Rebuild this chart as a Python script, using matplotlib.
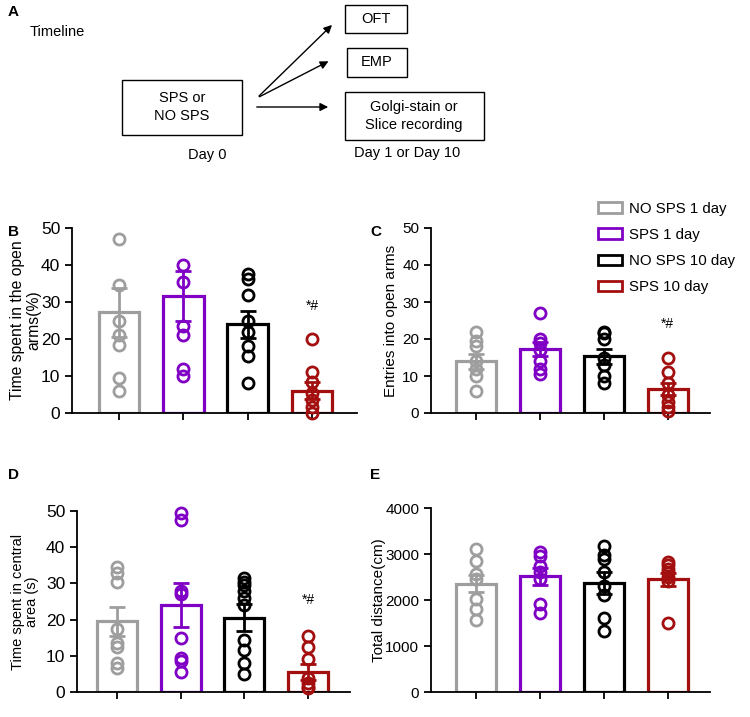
import matplotlib
matplotlib.use("Agg")
import matplotlib.pyplot as plt
from matplotlib.patches import Rectangle, Patch
import numpy as np

plt.rcParams['font.family'] = ['Liberation Sans', 'DejaVu Sans']

groups = ["NO SPS 1 day", "SPS 1 day", "NO SPS 10 day", "SPS 10 day"]
colors = ["#9e9e9e", "#7f00c4", "#000000", "#a30f0f"]

# Panel B: time spent in open arms (%)
b_means = [27.2, 31.7, 24.0, 6.0]
b_sem = [6.6, 6.8, 3.7, 2.3]
b_points = [[47, 34.5, 25, 21, 18.5, 9.5, 6],
            [40, 35.5, 23.5, 21, 12, 10],
            [37.5, 36.3, 32, 25, 22, 18, 15.5, 8],
            [20, 11, 8.5, 5.5, 3.5, 1.5, 0]]

# Panel C: entries into open arms
c_means = [14.0, 17.3, 15.3, 6.4]
c_sem = [2.0, 1.8, 2.0, 1.6]
c_points = [[22, 19.5, 18, 14, 12, 10, 6],
            [27, 20, 19, 17, 14, 12, 10.5],
            [22, 21.5, 20, 15, 13, 10, 8],
            [15, 11, 8, 5, 3, 1.5, 0.5]]

# Panel D: time spent in central area (s)
d_means = [19.5, 24.0, 20.5, 5.4]
d_sem = [4.1, 6.1, 3.7, 2.2]
d_points = [[34.5, 33, 30.5, 17.5, 13.5, 12.5, 8, 6.5],
            [49.5, 47.5, 28, 27, 15, 9.5, 8.5, 5.5],
            [31.5, 30.5, 29.5, 28, 26, 24, 14.5, 11.5, 8, 5],
            [15.5, 12.5, 9, 4, 2.5, 1.5, 1]]

# Panel E: total distance (cm)
e_means = [2355, 2514, 2370, 2449]
e_sem = [190, 180, 235, 145]
e_points = [[3116, 2840, 2560, 2450, 2030, 1800, 1560],
            [3050, 2950, 2750, 2600, 2450, 1920, 1720],
            [3170, 2980, 2900, 2600, 2300, 2100, 1600, 1330],
            [2830, 2760, 2680, 2600, 2500, 2420, 1490]]

W, H = 750, 717
fig = plt.figure(figsize=(W / 100, H / 100), dpi=100)


def fig_rect(x0, x1, ytop, ybot):
    return [x0 / W, 1 - ybot / H, (x1 - x0) / W, (ybot - ytop) / H]


def bar_panel(rect, means, sems, points, ylim, yticks, ylabel, xlim, star_y=None,
              ticksize=11, labelsize=11):
    ax = fig.add_axes(rect)
    x = np.arange(len(means))
    for i in range(len(means)):
        ax.bar(x[i], means[i], width=0.63, facecolor='white', edgecolor=colors[i],
               linewidth=2.3, zorder=1)
        ax.plot(np.full(len(points[i]), x[i]), points[i], 'o', ms=8.0, mfc='none',
                mec=colors[i], mew=2.0, zorder=3, clip_on=False)
        ax.errorbar(x[i], means[i], yerr=sems[i], color=colors[i], capsize=6,
                    elinewidth=2.0, capthick=2.0, zorder=4)
    ax.set_ylim(*ylim)
    ax.set_xlim(*xlim)
    ax.set_yticks(yticks)
    ax.set_xticks(x)
    ax.set_xticklabels([])
    ax.spines['top'].set_visible(False)
    ax.spines['right'].set_visible(False)
    ax.spines['left'].set_linewidth(1.3)
    ax.spines['bottom'].set_linewidth(1.3)
    ax.tick_params(axis='both', direction='out', length=5, width=1.3, labelsize=ticksize)
    ax.set_ylabel(ylabel, fontsize=labelsize, linespacing=1.05)
    if star_y is not None:
        ax.text(3, star_y, "*#", ha='center', va='center', fontsize=10)
    return ax


axB = bar_panel(fig_rect(72, 357, 228, 413), b_means, b_sem, b_points, (0, 50),
                [0, 10, 20, 30, 40, 50], "Time spent in the open\narms(%)", (-0.73, 3.70), 29,
                ticksize=12.5, labelsize=11.3)
axC = bar_panel(fig_rect(431, 710, 228, 413), c_means, c_sem, c_points, (0, 50),
                [0, 10, 20, 30, 40, 50], "Entries into open arms", (-0.70, 3.66), 24)
axD = bar_panel(fig_rect(77, 350, 511, 692), d_means, d_sem, d_points, (0, 50),
                [0, 10, 20, 30, 40, 50], "Time spent in central\narea (s)", (-0.63, 3.66), 25.5,
                ticksize=12.5, labelsize=10.5)
axE = bar_panel(fig_rect(431, 710, 508, 692), e_means, e_sem, e_points, (0, 4000),
                [0, 1000, 2000, 3000, 4000], "Total distance(cm)", (-0.70, 3.66))

axB.yaxis.set_label_coords(-0.109, 0.5)
axD.yaxis.set_label_coords(-0.139, 0.5)
axC.yaxis.set_label_coords(-0.12, 0.5)
axE.yaxis.set_label_coords(-0.16, 0.5)

handles = [Patch(facecolor='white', edgecolor=c, linewidth=2.0) for c in colors]
fig.legend(handles, groups, loc='upper left', bbox_to_anchor=(584 / W, 1 - 188 / H),
           frameon=False, fontsize=10.8, handlelength=1.65, handleheight=0.7,
           labelspacing=0.82, handletextpad=0.45)

# Overlay for timeline and panel letters
ov = fig.add_axes([0, 0, 1, 1], zorder=-1)
ov.set_xlim(0, W)
ov.set_ylim(H, 0)
ov.axis('off')

for lbl, (px, py) in {"A": (8, 12), "B": (8, 232), "C": (370, 232),
                      "D": (8, 475), "E": (370, 475)}.items():
    ov.text(px, py, lbl, fontsize=11, fontweight='bold', ha='left', va='center')

ov.text(30, 32, "Timeline", fontsize=10.5, ha='left', va='center')

box_kw = dict(facecolor='white', edgecolor='black', linewidth=1.0)
ov.add_patch(Rectangle((122, 80), 120, 55, **box_kw))
ov.text(182, 107, "SPS or\nNO SPS", ha='center', va='center', fontsize=10.5, linespacing=1.3)
ov.text(207, 155, "Day 0", ha='center', va='center', fontsize=10.5)

ov.add_patch(Rectangle((345, 5), 62, 28, **box_kw))
ov.text(376, 19, "OFT", ha='center', va='center', fontsize=10.5)
ov.add_patch(Rectangle((347, 48), 60, 29, **box_kw))
ov.text(377, 62, "EMP", ha='center', va='center', fontsize=10.5)
ov.add_patch(Rectangle((345, 92), 139, 48, **box_kw))
ov.text(414, 116, "Golgi-stain or\nSlice recording", ha='center', va='center', fontsize=10.5,
        linespacing=1.3)
ov.text(407, 153, "Day 1 or Day 10", ha='center', va='center', fontsize=10.5)

arrow_kw = dict(arrowstyle='-|>', color='black', lw=1.0, mutation_scale=12)
ov.annotate("", xy=(334, 23), xytext=(257, 98), arrowprops=arrow_kw)
ov.annotate("", xy=(331, 60), xytext=(257, 98), arrowprops=arrow_kw)
ov.annotate("", xy=(331, 107), xytext=(254, 107), arrowprops=arrow_kw)

fig.savefig("out.png", dpi=100)
